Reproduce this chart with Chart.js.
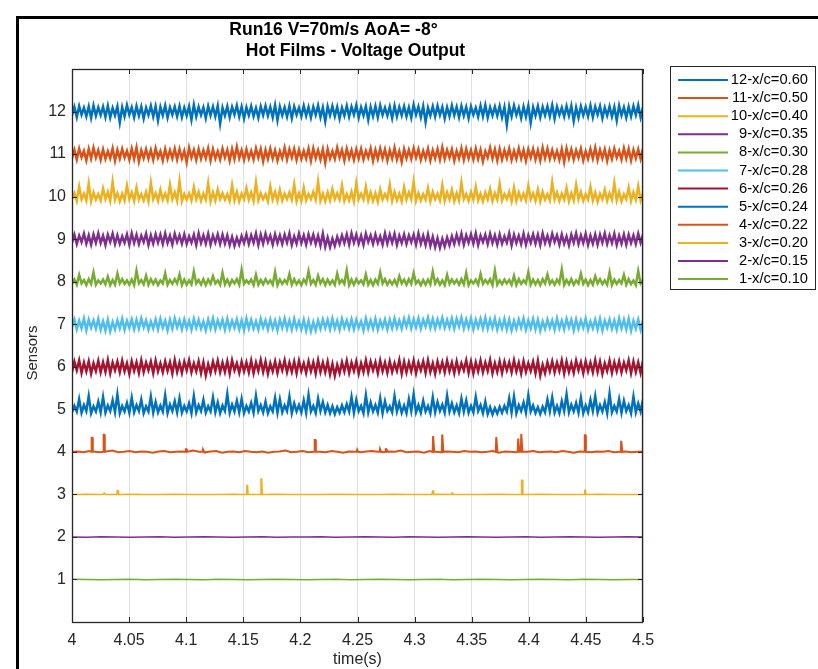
<!DOCTYPE html>
<html><head><meta charset="utf-8">
<script src="https://cdn.jsdelivr.net/npm/chart.js@4/dist/chart.umd.min.js"></script>
<style>html,body{margin:0;padding:0;background:#fff;}canvas{display:block;}</style>
</head><body>
<canvas id="c" width="818" height="669"></canvas>
<script>
// ---- data ----
const titleLines = ["Run16 V=70m/s AoA= -8°", "Hot Films - Voltage Output"];
const xLabel = "time(s)";
const yLabel = "Sensors";
const tStart = 4, tEnd = 4.5;
const sensorLabels = ["12-x/c=0.60","11-x/c=0.50","10-x/c=0.40","9-x/c=0.35","8-x/c=0.30","7-x/c=0.28","6-x/c=0.26","5-x/c=0.24","4-x/c=0.22","3-x/c=0.20","2-x/c=0.15","1-x/c=0.10"];
const sensorBase = [12,11,10,9,8,7,6,5,4,3,2,1];
const sensorColors = ["#0072BD","#D95319","#EDB120","#7E2F8E","#77AC30","#4DBEEE","#A2142F","#0072BD","#D95319","#EDB120","#7E2F8E","#77AC30"];

// upper / lower excursions of each noisy trace, in counts
const hi12 = [14,17,12,16,19,13,15,18,11,16,14,20,13,17,15,12,18,16,14,19,13,15,17,12,16,21,14,13,17,15,18,12,16,14,19,15,13,17,11,16,18,14,20,15,13,17,16,12,18,14,15,19,13,16,17,14,12,18,15,20,13,16,14,17,19,12,15,18,14,16,13,21,15,17,12,16,18,14,13,19,15,17,14,16,12,18,20,13,15,17,14,16,19,12,15,18,13,17,14,16,20,15,12,17,18,13,16,14,19,15,17,12,16,14,18,13,15,17,20,14];
const lo12 = [-12,-18,-10,-15,-20,-13,-11,-17,-19,-12,-34,-15,-10,-18,-13,-22,-11,-16,-28,-12,-19,-10,-15,-18,-13,-26,-16,-11,-21,-12,-15,-38,-13,-18,-10,-16,-22,-12,-15,-19,-11,-13,-18,-27,-12,-16,-21,-10,-15,-13,-19,-11,-18,-31,-12,-15,-22,-13,-16,-10,-19,-12,-26,-15,-18,-11,-13,-21,-16,-12,-15,-19,-10,-18,-33,-13,-16,-11,-22,-15,-12,-18,-13,-21,-10,-16,-15,-19,-12,-13,-18,-42,-15,-11,-21,-16,-35,-13,-18,-12,-15,-22,-11,-16,-13,-30,-19,-12,-15,-18,-10,-21,-13,-16,-28,-12,-19,-15,-11,-18];
const hi11 = [13,17,10,16,20,12,15,9,18,13,16,10,17,21,12,15,13,18,9,16,12,17,15,10,20,13,16,12,18,15,9,17,13,16,23,12,15,10,18,16,13,17,12,9,20,15,16,13,10,17,18,12,15,16,9,20,13,17,12,15,16,10,18,13,17,15,12,20,9,16,13,18,15,10,17,12,16,21,13,15,10,18,16,12,17,13,9,20,15,16,12,17,10,18,13,15,16,12,20,17,13,10,16,18,15,12,17,9,16,20,13,15,12,17,10,18,16,13,15,17];
const lo11 = [-13,-17,-10,-20,-14,-11,-18,-15,-13,-21,-14,-11,-17,-15,-23,-13,-14,-18,-11,-20,-15,-13,-17,-14,-26,-11,-18,-15,-13,-20,-14,-17,-11,-21,-15,-13,-18,-14,-17,-11,-23,-15,-14,-20,-13,-17,-11,-18,-15,-14,-21,-13,-17,-27,-14,-15,-11,-20,-13,-18,-14,-17,-11,-21,-15,-13,-20,-14,-17,-24,-13,-15,-11,-18,-14,-20,-13,-17,-15,-11,-21,-14,-18,-13,-17,-15,-23,-11,-14,-20,-17,-13,-18,-15,-14,-21,-11,-17,-20,-13,-15,-14,-18,-25,-13,-17,-11,-20,-15,-14,-18,-13,-21,-15,-11,-17,-14,-20,-13,-15];
const hi10 = [8,24,7,31,10,6,19,11,35,8,7,26,10,21,6,11,33,8,16,7,28,10,37,6,8,22,11,7,32,10,17,8,6,27,11,7,20,10,34,8,6,24,11,16,7,10,29,8,21,6,11,36,7,10,18,8,26,6,11,32,7,23,10,8,17,6,28,11,7,22,10,35,8,6,20,11,7,27,10,16,8,33,6,11,23,7,10,18,8,30,6,11,21,10,7,26,8,17,11,6,34,10,7,20,8,28,11,6,23,10,7,16,8,32,11,6,21,10,25,8];
const lo10 = [-7,-10,-6,-9,-11,-7,-9,-6,-10,-7,-11,-9,-6,-10,-7,-9,-11,-6,-10,-7,-9,-6,-10,-11,-7,-9,-6,-10,-7,-11,-9,-6,-7,-10,-9,-11,-6,-7,-10,-9,-6,-11,-7,-10,-9,-6,-7,-11,-10,-9,-6,-7,-10,-11,-9,-6,-7,-10,-9,-11,-6,-7,-9,-10,-12,-7,-6,-10,-9,-11,-7,-6,-10,-9,-7,-11,-6,-9,-10,-7,-11,-9,-6,-10,-7,-9,-11,-6,-10,-7,-9,-6,-11,-10,-7,-9,-6,-10,-11,-7,-9,-6,-10,-7,-11,-9,-6,-10,-7,-9,-12,-6,-10,-7,-9,-11,-6,-10,-7,-9];
const hi9 = [14,11,17,12,15,18,11,14,17,12,9,15,18,14,11,17,12,15,14,18,11,17,12,15,9,14,18,12,17,11,15,14,12,7,5,10,15,12,18,14,17,11,15,12,14,18,9,17,12,15,14,11,17,5,2,7,12,15,18,14,11,17,12,15,9,18,14,17,11,15,12,14,18,11,15,7,3,1,5,9,14,17,12,15,18,11,14,17,12,15,9,18,14,11,17,12,15,14,18,11,17,12,15,9,14,18,12,17,11,15,14,18,12,17,11,15,14,12,17,14];
const lo9 = [-11,-15,-9,-14,-17,-11,-12,-18,-9,-15,-14,-11,-17,-12,-15,-9,-18,-14,-11,-15,-12,-17,-9,-14,-15,-11,-18,-12,-14,-17,-11,-15,-14,-19,-21,-17,-12,-15,-11,-18,-14,-9,-17,-12,-15,-11,-18,-14,-12,-17,-11,-15,-20,-24,-25,-21,-15,-12,-17,-11,-14,-18,-9,-15,-12,-17,-14,-11,-18,-12,-15,-9,-17,-14,-18,-21,-25,-27,-23,-19,-15,-12,-17,-11,-14,-18,-9,-15,-12,-17,-14,-11,-19,-12,-15,-17,-11,-14,-18,-12,-15,-9,-17,-14,-19,-11,-15,-12,-18,-14,-17,-11,-15,-12,-18,-14,-17,-12,-15,-11];
const hi8 = [5,16,4,6,22,3,5,12,4,19,6,3,5,26,4,14,6,5,3,20,4,6,17,5,3,24,4,6,5,13,3,21,5,4,6,28,3,5,16,4,6,3,23,5,4,18,6,3,5,25,4,14,6,5,3,19,4,27,5,6,3,17,4,5,22,6,3,4,13,5,6,20,3,4,5,24,6,3,16,5,4,6,21,3,5,18,4,6,26,3,5,4,14,6,3,23,5,4,6,17,3,5,29,4,6,3,19,5,4,13,6,3,22,5,4,16,6,3,25,5];
const lo8 = [-5,-7,-4,-8,-5,-7,-4,-6,-8,-7,-4,-5,-7,-8,-4,-6,-7,-5,-8,-4,-7,-5,-4,-8,-7,-6,-4,-7,-8,-5,-4,-7,-6,-8,-4,-7,-5,-4,-8,-7,-6,-4,-7,-8,-5,-4,-7,-6,-8,-4,-5,-7,-4,-8,-6,-7,-4,-5,-8,-7,-4,-6,-7,-8,-5,-4,-7,-6,-8,-4,-7,-5,-4,-8,-7,-6,-4,-7,-8,-5,-4,-7,-6,-8,-4,-7,-5,-4,-8,-7,-6,-4,-7,-8,-5,-4,-7,-6,-8,-4,-5,-7,-4,-8,-6,-7,-4,-5,-8,-7,-4,-6,-7,-8,-5,-4,-7,-6,-8,-4];
const hi7 = [15,11,18,14,12,17,9,14,7,12,17,11,15,14,18,12,9,15,17,11,14,18,12,15,11,17,14,9,15,18,12,14,17,11,15,12,18,14,9,17,12,15,11,14,18,12,17,9,14,11,7,12,15,14,18,11,17,12,15,14,9,18,12,17,11,15,14,18,12,17,20,15,18,14,21,17,15,20,14,18,17,21,15,18,14,17,20,15,18,12,17,14,11,15,18,12,17,14,9,15,12,18,11,17,14,15,12,18,9,14,17,11,15,12,18,14,17,11,15,12];
const lo7 = [-10,-16,-13,-19,-11,-14,-17,-20,-22,-16,-13,-17,-11,-16,-14,-10,-17,-13,-16,-11,-19,-14,-10,-16,-13,-17,-11,-14,-19,-13,-16,-10,-17,-14,-11,-16,-19,-13,-14,-17,-10,-16,-13,-19,-11,-14,-17,-13,-16,-20,-22,-19,-14,-11,-16,-13,-17,-10,-14,-16,-11,-19,-13,-14,-17,-10,-16,-13,-11,-14,-8,-13,-10,-14,-7,-11,-13,-8,-11,-10,-14,-7,-13,-11,-16,-10,-13,-14,-11,-17,-13,-16,-19,-14,-11,-17,-13,-16,-20,-14,-11,-17,-13,-16,-10,-19,-14,-11,-17,-13,-16,-19,-11,-14,-17,-13,-16,-20,-14,-17];
const hi6 = [16,20,13,17,11,19,14,21,13,16,19,11,17,14,20,13,16,19,11,17,14,21,13,16,20,11,17,14,8,16,19,13,17,20,11,16,14,19,13,21,16,11,17,14,20,13,16,19,11,17,14,20,13,16,9,6,14,19,13,17,11,20,16,14,19,13,17,11,21,16,14,19,13,17,20,11,16,14,19,13,17,11,20,16,14,19,13,21,11,17,16,14,20,13,17,11,16,19,6,14,17,13,20,16,11,19,14,17,13,21,16,11,19,14,17,13,20,16,14,19];
const lo6 = [-16,-11,-19,-14,-21,-13,-17,-16,-20,-11,-17,-14,-22,-13,-19,-16,-11,-20,-14,-17,-13,-21,-16,-19,-11,-17,-14,-20,-27,-19,-13,-17,-16,-21,-11,-19,-14,-17,-20,-13,-16,-22,-14,-19,-11,-17,-16,-20,-13,-19,-14,-21,-16,-17,-24,-28,-20,-14,-19,-13,-21,-16,-17,-11,-20,-14,-19,-16,-13,-21,-17,-14,-20,-11,-19,-16,-22,-13,-17,-14,-20,-16,-11,-19,-21,-14,-17,-13,-20,-16,-19,-11,-17,-14,-21,-16,-13,-20,-27,-20,-14,-17,-13,-21,-16,-19,-11,-20,-14,-17,-16,-22,-13,-19,-14,-17,-11,-20,-16,-19];
const hi5 = [8,24,10,31,7,18,29,9,21,35,8,15,27,10,23,7,30,17,9,33,11,19,26,8,14,31,10,22,7,28,16,9,36,11,20,24,8,15,32,10,18,7,27,23,9,30,14,10,21,34,8,25,17,10,7,5,9,12,29,22,8,33,16,10,26,19,7,31,15,9,24,35,10,20,8,28,17,11,32,14,9,25,21,8,29,10,18,5,3,6,8,26,30,10,16,33,9,5,6,23,28,8,19,35,11,15,27,9,22,31,10,17,37,8,24,20,10,30,14,23];
const lo5 = [-7,-5,-8,-4,-9,-5,-7,-8,-4,-7,-9,-5,-8,-7,-4,-9,-5,-8,-7,-5,-9,-4,-7,-8,-5,-9,-7,-4,-8,-5,-7,-9,-4,-8,-5,-7,-9,-5,-8,-4,-7,-9,-5,-8,-7,-4,-9,-5,-7,-8,-5,-9,-4,-7,-9,-11,-8,-7,-5,-8,-4,-9,-7,-5,-8,-9,-4,-7,-5,-8,-9,-4,-7,-8,-5,-9,-7,-4,-8,-5,-7,-9,-5,-8,-7,-4,-9,-11,-12,-10,-8,-5,-7,-9,-4,-8,-5,-9,-11,-7,-5,-8,-9,-4,-7,-5,-8,-9,-7,-4,-8,-5,-9,-7,-5,-8,-4,-9,-7,-5];
// sensor units per count for each noisy trace
const countUnit = {12:0.0075, 11:0.0075, 10:0.01, 9:0.0075, 8:0.01, 7:0.0075, 6:0.0075, 5:0.01};

// quiet traces: deviations, hundredths
const dev4 = [0,1,-1,2,0,-1,1,3,-1,0,2,-1,1,0,-2,1,2,-1,0,1,-1,3,0,-1,1,2,-2,0,1,-1,2,0,-1,1,-2,0,1,3,-1,0,2,-1,1,0,-1,2,0,-2,1,0,-1,1,2,0,-1,1,0,3,-1,0,1,-2,2,0,-1,1,0,-1,2,0,1,-1,0,2,-2,1,0,-1,1,0,2,-1,0,1,-1,2,0,-2,1,0,-1,1,0,2,-1,0,1,-1,0,1];
const dev3 = [0,0.5,-0.5,0,0.5,0,-0.5,0.5,0,-0.5,0,0.5,0,-0.5,0.5,0,0,-0.5,0.5,0,-0.5,0,0.5,-0.5,0,0.5,0,-0.5,0,0.5,0,-0.5,0.5,0,-0.5,0,0.5,0,-0.5,0];
const dev2 = [0,-0.5,0.5,0,-0.5,0,0.5,-0.5,0,0.5,0,-0.5,0,0.5,-0.5,0,0,0.5,-0.5,0,0.5,0,-0.5,0.5,0,-0.5,0,0.5,0,-0.5,0,0.5,-0.5,0,0.5,0,-0.5,0,0.5,0];
const dev1 = [0.5,0,-0.5,0,0.5,-0.5,0,0.5,0,-0.5,0.5,0,-0.5,0,0.5,0,-0.5,0,0.5,-0.5,0,0.5,0,-0.5,0,0.5,-0.5,0,0.5,0,-0.5,0,0.5,0,-0.5,0.5,0,-0.5,0,0];

// pulses (time, height in sensor units)
const spike4T = [4.0175,4.028,4.1,4.115,4.2128,4.25,4.27,4.275,4.3165,4.3245,4.3718,4.391,4.3937,4.4493,4.4812];
const spike4H = [0.33,0.40,0.06,0.06,0.28,0.05,0.07,0.06,0.37,0.41,0.35,0.31,0.42,0.39,0.26];
const spike3T = [4.0285,4.04,4.1534,4.1658,4.316,4.333,4.394,4.4493];
const spike3H = [0.03,0.09,0.21,0.36,0.08,0.03,0.33,0.10];

const noisyHi = {12:hi12, 11:hi11, 10:hi10, 9:hi9, 8:hi8, 7:hi7, 6:hi6, 5:hi5};
const noisyLo = {12:lo12, 11:lo11, 10:lo10, 9:lo9, 8:lo8, 7:lo7, 6:lo6, 5:lo5};
const quietDev = {4:dev4, 3:dev3, 2:dev2, 1:dev1};

// ---- build datasets ----
function envelopeTrace(base, hi, lo, u){
  const n = Math.min(hi.length, lo.length), m = 2*n, pts = [];
  for (let k=0;k<n;k++){
    pts.push({x: tStart + (2*k)*(tEnd-tStart)/(m-1), y: base + lo[k]*u});
    pts.push({x: tStart + (2*k+1)*(tEnd-tStart)/(m-1), y: base + hi[k]*u});
  }
  return pts;
}
function trace(base, devs){
  return devs.map((d,i)=>({x: tStart + i*(tEnd-tStart)/(devs.length-1), y: base + d/100}));
}
function addPulses(pts, base, ts, hs, hw){
  let out = pts.filter(p => !ts.some(t => Math.abs(p.x - t) < hw*1.6));
  ts.forEach((t,k)=>{
    out.push({x:t-hw, y:base},{x:t-hw*0.4, y:base+hs[k]},{x:t+hw*0.4, y:base+hs[k]},{x:t+hw, y:base});
  });
  out.sort((a,b)=>a.x-b.x);
  return out;
}
const datasets = sensorBase.map((b,i)=>{
  let pts;
  if (noisyHi[b]) pts = envelopeTrace(b, noisyHi[b], noisyLo[b], countUnit[b]);
  else pts = trace(b, quietDev[b]);
  if (b===4) pts = addPulses(pts, b, spike4T, spike4H, 0.0007);
  if (b===3) pts = addPulses(pts, b, spike3T, spike3H, 0.0008);
  return {label: sensorLabels[i], data: pts, borderColor: sensorColors[i], backgroundColor: sensorColors[i],
    borderWidth: b<=3 ? 1.5 : (b===4 ? 2 : 2.5), pointRadius: 0, tension: 0, fill: false};
});

const FONT = '"Liberation Sans", Arial, Helvetica, sans-serif';
const deco = {
  id:'deco',
  beforeDraw(chart){
    const ctx = chart.ctx;
    ctx.save(); ctx.fillStyle='#fff'; ctx.fillRect(0,0,chart.width,chart.height); ctx.restore();
  },
  afterDraw(chart){
    const {ctx, chartArea:a, scales:{x,y}} = chart;
    ctx.save();
    // axes box
    ctx.strokeStyle='#262626'; ctx.lineWidth=1.3;
    ctx.strokeRect(a.left+0.5, a.top+0.5, a.right-a.left-1, a.bottom-a.top);
    // ticks (inside)
    ctx.lineWidth=1;
    ctx.beginPath();
    x.ticks.forEach(t=>{ const px=Math.round(x.getPixelForValue(t.value))+0.5;
      ctx.moveTo(px,a.bottom); ctx.lineTo(px,a.bottom-5);
      ctx.moveTo(px,a.top); ctx.lineTo(px,a.top+5); });
    y.ticks.forEach(t=>{ const py=Math.round(y.getPixelForValue(t.value))+0.5;
      ctx.moveTo(a.left,py); ctx.lineTo(a.left+5,py);
      ctx.moveTo(a.right,py); ctx.lineTo(a.right-5,py); });
    ctx.stroke();
    // title
    ctx.fillStyle='#000'; ctx.font='bold 17.5px '+FONT; ctx.textAlign='center'; ctx.textBaseline='middle';
    const cx=(a.left+a.right)/2;
    ctx.fillText(titleLines[0], cx-24, 30);
    ctx.fillText(titleLines[1], cx-2, 51);
    // axis titles
    ctx.fillStyle='#262626'; ctx.font='16px '+FONT;
    ctx.fillText(xLabel, cx, 660);
    ctx.font='15px '+FONT;
    ctx.save(); ctx.translate(33, 353); ctx.rotate(-Math.PI/2); ctx.fillText(yLabel,0,0); ctx.restore();
    // legend
    ctx.strokeStyle='#262626'; ctx.lineWidth=1;
    ctx.strokeRect(670.5, 66.5, 145, 223);
    ctx.font='14.7px '+FONT; ctx.textAlign='right'; ctx.fillStyle='#000';
    chart.data.datasets.forEach((ds,i)=>{
      const ly = 80 + i*18.1;
      ctx.strokeStyle=ds.borderColor; ctx.lineWidth=2;
      ctx.beginPath(); ctx.moveTo(678,ly); ctx.lineTo(728,ly); ctx.stroke();
      ctx.fillText(ds.label, 808, ly);
    });
    // figure frame
    ctx.fillStyle='#000';
    ctx.fillRect(16,16,chart.width-16,3);
    ctx.fillRect(16,16,3,chart.height-16);
    ctx.restore();
  }
};

new Chart(document.getElementById('c'), {
  type:'line',
  data:{datasets},
  options:{
    responsive:false, animation:false, devicePixelRatio:1,
    layout:{padding:{left:0,right:175,top:69,bottom:0}},
    plugins:{legend:{display:false}, title:{display:false}, tooltip:{enabled:false}},
    scales:{
      x:{type:'linear', min:tStart, max:tEnd,
        afterFit(s){ s.height=47; },
        border:{display:false},
        grid:{color:'#e0e0e0', lineWidth:1, drawTicks:false},
        ticks:{stepSize:0.05, autoSkip:false, maxRotation:0, padding:9, color:'#262626', font:{family:FONT,size:16},
          callback:v=>String(+(+v).toFixed(2))}},
      y:{type:'linear', min:0, max:13,
        afterFit(s){ s.width=72; },
        border:{display:false},
        grid:{display:false, drawTicks:false},
        ticks:{stepSize:1, padding:6, color:'#262626', font:{family:FONT,size:16},
          callback:v=>(v>=1&&v<=12)?String(v):''}}
    }
  },
  plugins:[deco]
});
</script>
</body></html>
